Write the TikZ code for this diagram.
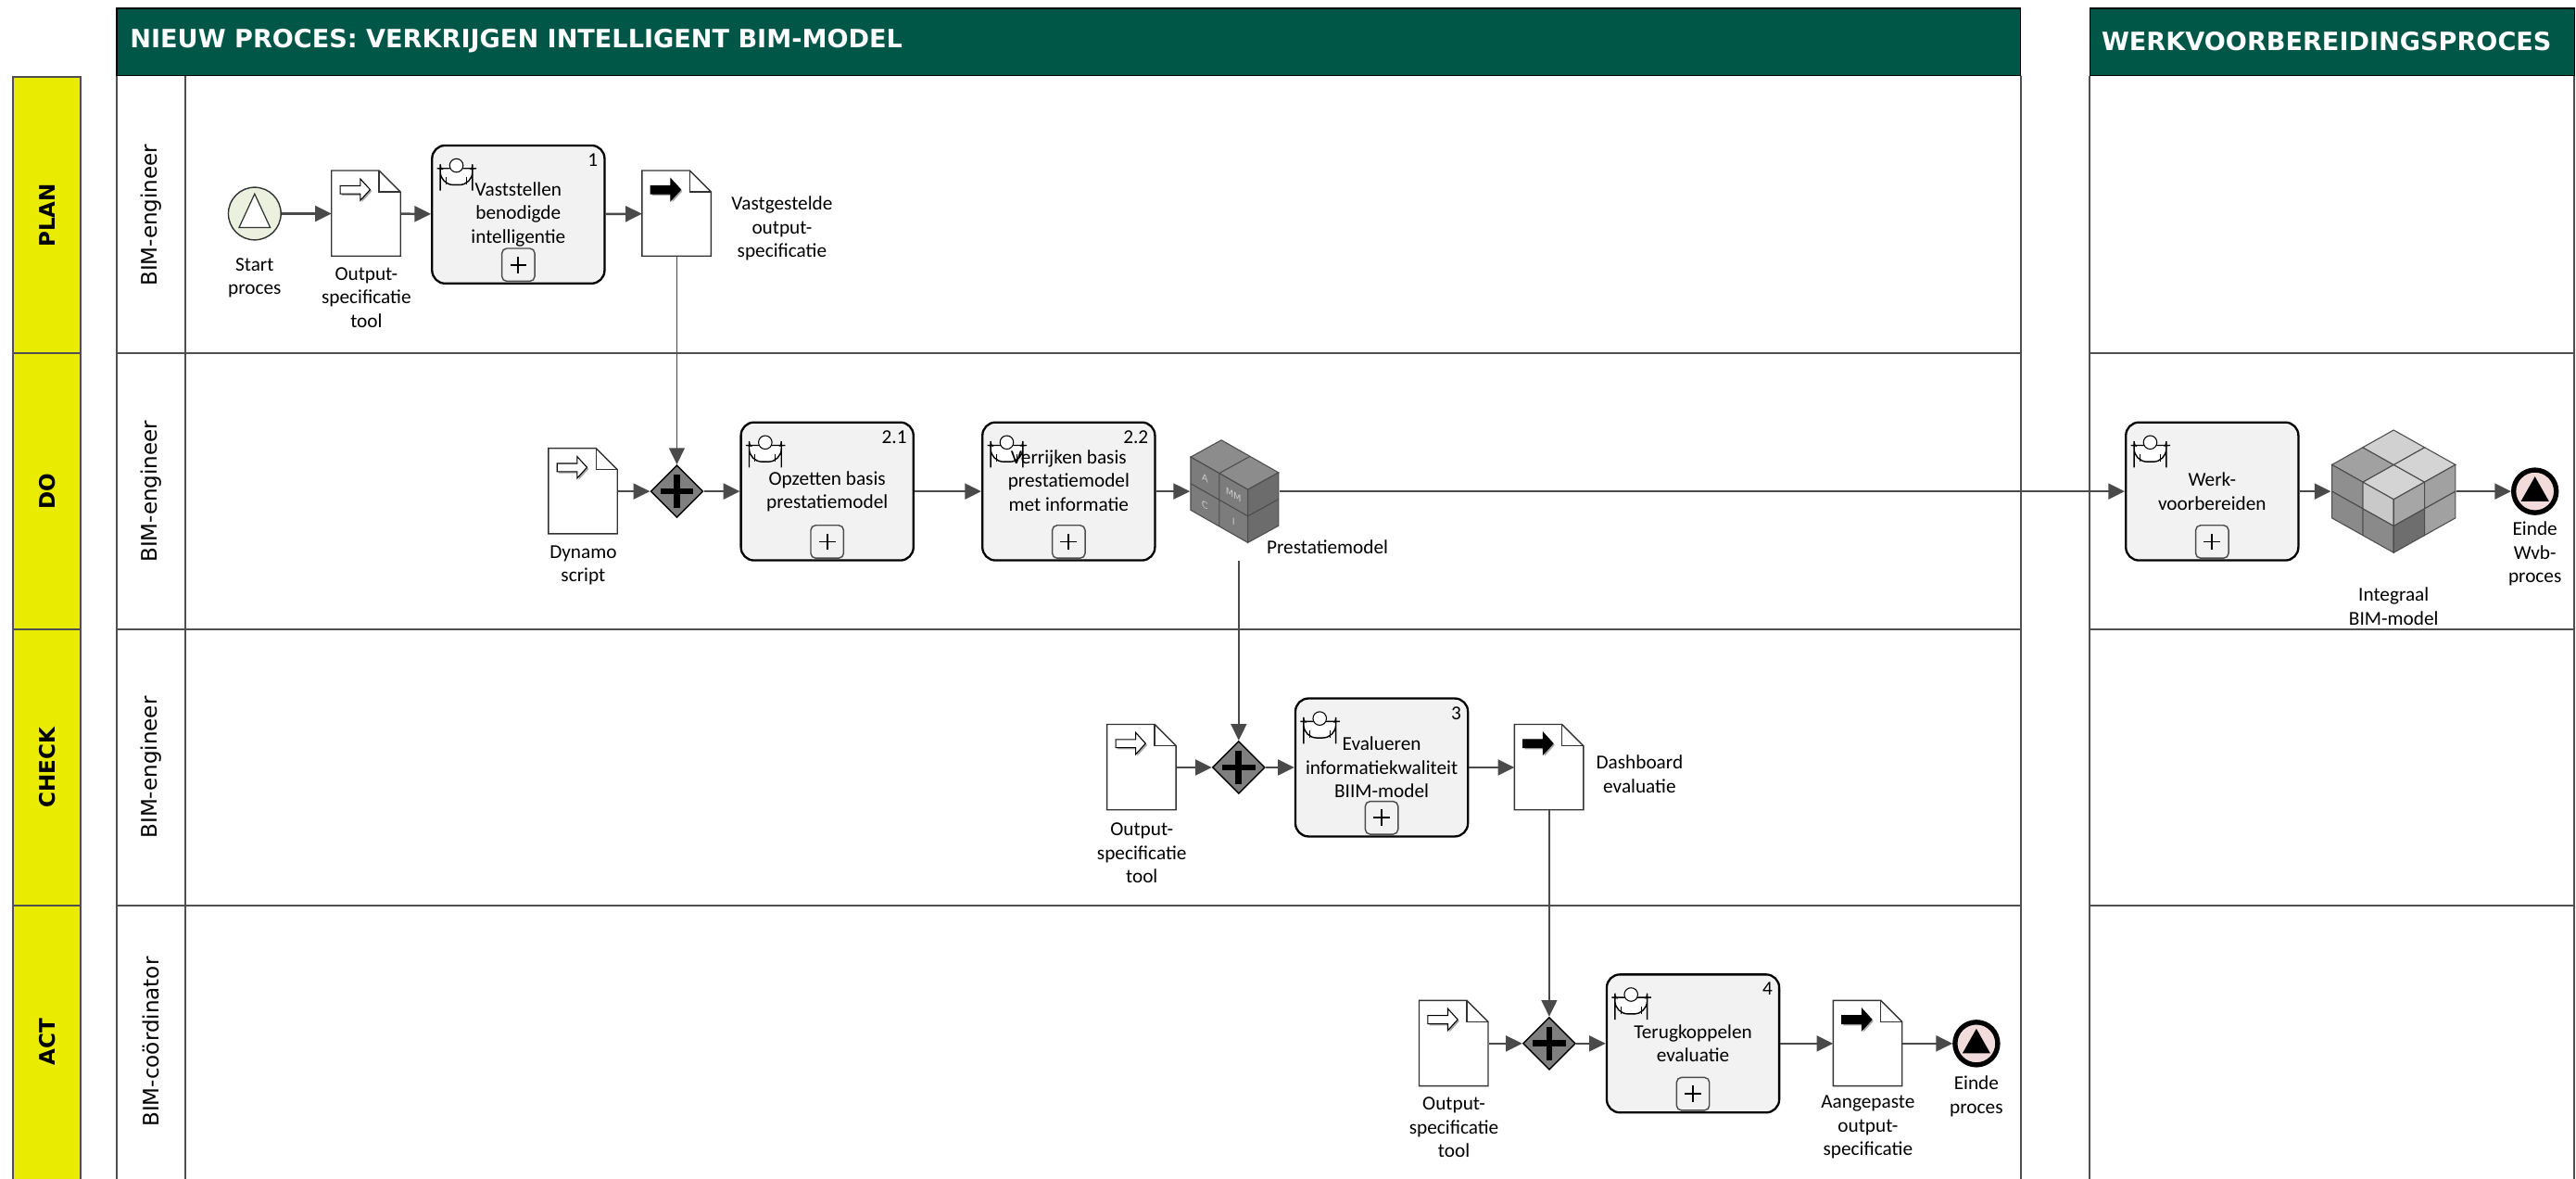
\documentclass[tikz,border=0pt]{standalone}
\usepackage{fontspec}
\setmainfont{Carlito}
\newfontfamily\verdana{DejaVu Sans}
\usetikzlibrary{shapes.geometric,arrows.meta,positioning}

\definecolor{headgreen}{HTML}{015747}
\definecolor{pdcayellow}{HTML}{E9EB00}
\definecolor{lanegray}{HTML}{4F4F4F}
\definecolor{flowgray}{HTML}{4A4A4A}
\definecolor{taskfill}{HTML}{F2F2F2}
\definecolor{startfill}{HTML}{EBF1DE}
\definecolor{endfill}{HTML}{F2DCDB}
\definecolor{gwfill}{HTML}{7F7F7F}
\definecolor{cubetop}{HTML}{8C8C8C}
\definecolor{cubeleft}{HTML}{7C7C7C}
\definecolor{cuberight}{HTML}{6C6C6C}

\newcommand{\bodysize}{\fontsize{12}{14.4}\selectfont}

% point of the performer icon, measured from the top left of a 105x84 task
\newcommand{\iconpt}[2]{([xshift=#1pt-52.5pt,yshift=42pt-#2pt]path picture bounding box.center)}
% performer icon, drawn under the task text
\newcommand{\usericon}{%
  \draw[fill=white, line width=0.8pt] \iconpt{5}{24} -- \iconpt{5}{19.5} .. controls \iconpt{5}{15.5} and \iconpt{8}{14} .. \iconpt{11}{14}
    -- \iconpt{19}{14} .. controls \iconpt{22}{14} and \iconpt{24.6}{15.5} .. \iconpt{24.6}{19.5} -- \iconpt{24.6}{24} -- cycle;
  \draw[line width=0.6pt] \iconpt{8.5}{19.5} -- \iconpt{8.5}{24} \iconpt{21}{19.5} -- \iconpt{21}{24};
  \fill \iconpt{14.8}{9.6} circle (5.8pt);
  \draw[fill=white, line width=0.6pt] \iconpt{14.8}{12.2} circle (4.1pt);}

\tikzstyle{lane} = [draw=lanegray, line width=1.2pt]
\tikzstyle{headtxt} = [font=\verdana\bfseries\fontsize{15.3}{18}\selectfont, text=white, anchor=west, inner sep=0pt]
\tikzstyle{pdca} = [font=\verdana\bfseries\fontsize{13}{15}\selectfont, rotate=90, inner sep=0pt]
\tikzstyle{role} = [font=\verdana\fontsize{13}{15}\selectfont, rotate=90, inner sep=0pt]
\tikzstyle{task} = [rectangle, rounded corners=8pt, minimum width=105pt, minimum height=84pt, draw=black, line width=1.3pt, fill=taskfill, align=center, font=\bodysize, inner sep=2pt,
  path picture={\usericon}]
\tikzstyle{doc} = [rectangle, minimum width=42pt, minimum height=52pt, inner sep=0pt]
\tikzstyle{cubebox} = [rectangle, inner sep=0pt]
\tikzstyle{gateway} = [diamond, minimum width=32pt, minimum height=32pt, inner sep=0pt, draw=black, line width=0.8pt, fill=gwfill,
  path picture={\draw[line width=3.8pt] ([xshift=-10pt]path picture bounding box.center) -- ([xshift=10pt]path picture bounding box.center)
    ([yshift=-10pt]path picture bounding box.center) -- ([yshift=10pt]path picture bounding box.center);}]
\tikzstyle{startev} = [circle, minimum size=32pt, inner sep=0pt, draw=black!80, line width=0.8pt, fill=startfill,
  path picture={\draw[fill=white, line width=0.7pt] ([yshift=12pt]path picture bounding box.center)
    -- ([xshift=-9.5pt,yshift=-8.5pt]path picture bounding box.center) -- ([xshift=9.5pt,yshift=-8.5pt]path picture bounding box.center) -- cycle;}]
\tikzstyle{endev} = [circle, minimum size=26pt, inner sep=0pt, draw=black, line width=3pt, fill=endfill,
  path picture={\fill[black] ([yshift=9pt]path picture bounding box.center)
    -- ([xshift=-8.5pt,yshift=-6pt]path picture bounding box.center) -- ([xshift=8.5pt,yshift=-6pt]path picture bounding box.center) -- cycle;}]
\tikzstyle{lbl} = [align=center, font=\bodysize, inner sep=0pt]
\tikzstyle{nr} = [font=\bodysize, inner sep=0pt, anchor=north east]
\tikzstyle{plusbox} = [draw=black!70, line width=0.8pt, fill=taskfill, rounded corners=3pt]
\tikzstyle{cubeline} = [draw=black!70, line width=0.6pt]
\tikzstyle{cubetxt} = [font=\verdana\fontsize{5.5}{6}\selectfont, text=black!20, yslant=-0.57, inner sep=0pt]
\tikzstyle{arrow} = [line width=1.4pt, draw=flowgray, -{Triangle[length=10pt,width=9.5pt]}]
\tikzstyle{link} = [arrow, line width=1pt]

% folded page, #2 is the fill of the arrow (white = input, black = output)
\newcommand{\docpage}[2]{%
  \begin{scope}[shift={(#1.north west)}]
    \draw[draw=black!80, line width=0.8pt, fill=white] (0,0) -- (29,0) -- (42,13) -- (42,52) -- (0,52) -- cycle;
    \draw[draw=black!80, line width=0.8pt] (29,0) -- (29,13) -- (42,13);
    \fill[black!35] (6.3,10.2) -- (18.5,10.2) -- (18.5,6) -- (24.5,12.6) -- (18.5,19.2) -- (18.5,15.2) -- (6.3,15.2) -- cycle;
    \draw[line width=0.6pt, fill=#2] (5.3,9.2) -- (17.5,9.2) -- (17.5,5) -- (23.5,11.6) -- (17.5,18.2) -- (17.5,14.2) -- (5.3,14.2) -- cycle;
  \end{scope}}

% number and sub-process marker of a task
\newcommand{\taskmarks}[2]{%
  \node[nr] (#1-nr) at ([xshift=-4.5pt,yshift=-5.5pt]#1.north east) {#2};
  \draw[plusbox] ([xshift=-10pt,yshift=2pt]#1.south) rectangle ([xshift=10pt,yshift=22pt]#1.south);
  \draw[line width=1pt] ([xshift=-5pt,yshift=12pt]#1.south) -- ([xshift=5pt,yshift=12pt]#1.south)
    ([yshift=7pt]#1.south) -- ([yshift=17pt]#1.south);
}

% A/C/MM/I block
\newcommand{\prestatiecube}[1]{%
  \begin{scope}[shift={(#1.center)}]
    \draw[cubeline, fill=cubetop] (-26.75,-20.9) -- (-8.05,-31.2) -- (9.35,-21.3) -- (26.75,-11.4) -- (8.05,-1.1) -- (-9.35,-11.0) -- cycle;
    \draw[cubeline] (-9.35,-11.0) -- (9.35,-21.3);
    \draw[cubeline, fill=cubeleft] (-26.75,-20.9) -- (8.05,-1.1) -- (8.05,31.2) -- (-26.75,11.4) -- cycle;
    \draw[cubeline] (-9.35,-11.0) -- (-9.35,21.3) (-26.75,-4.75) -- (8.05,15.05);
    \draw[cubeline, fill=cuberight] (8.05,-1.1) -- (26.75,-11.4) -- (26.75,20.9) -- (8.05,31.2) -- cycle;
    \draw[cubeline] (8.05,15.05) -- (26.75,4.75);
    \node[cubetxt] (#1-a) at (-18.05,-7.9) {A};
    \node[cubetxt] (#1-c) at (-18.05,8.3) {C};
    \node[cubetxt] (#1-mm) at (-0.65,2.0) {MM};
    \node[cubetxt] (#1-i) at (-0.65,18.2) {I};
  \end{scope}}

% 2x2x2 block
\newcommand{\integraalcube}[1]{%
  \begin{scope}[shift={(#1.center)}]
    \foreach \i/\j/\c in {0/0/black!17,1/0/black!37,0/1/black!17,1/1/black!18}
      \draw[cubeline, fill=\c] ({18.8*(\j-\i)},{4.9-10.55*(\i+\j)}) -- ++(-18.8,-10.55) -- ++(18.8,-10.55) -- ++(18.8,10.55) -- cycle;
    \foreach \i/\k/\c in {0/0/black!21,1/0/black!44,0/1/black!46,1/1/black!46}
      \draw[cubeline, fill=\c] ({-18.8*\i},{4.9-10.55*\i+16.2*\k}) -- ++(-18.8,-10.55) -- ++(0,16.2) -- ++(18.8,10.55) -- cycle;
    \foreach \j/\k/\c in {0/0/black!35,1/0/black!37,0/1/black!57,1/1/black!37}
      \draw[cubeline, fill=\c] ({18.8*\j},{4.9-10.55*\j+16.2*\k}) -- ++(18.8,-10.55) -- ++(0,16.2) -- ++(-18.8,10.55) -- cycle;
  \end{scope}}

\begin{document}
\begin{tikzpicture}[x=1pt, y=-1pt, node distance=40pt]
\useasboundingbox (0,0) rectangle (1568,717);

% pools and lanes
\filldraw[fill=headgreen, draw=black, line width=0.8pt] (71,5) rectangle (1230,46);
\filldraw[fill=headgreen, draw=black, line width=0.8pt] (1272,5) rectangle (1567,46);
\draw[lane] (71,46) -- (71,725) (113,46) -- (113,725) (1230,46) -- (1230,725);
\draw[lane] (1272,46) -- (1272,725) (1567,46) -- (1567,725);
\filldraw[fill=pdcayellow, draw=lanegray, line width=1.2pt] (8,47) rectangle (49,725);
\foreach \y in {215,383,551} {
  \draw[lane] (8,\y) -- (49,\y);
  \draw[lane] (71,\y) -- (1230,\y);
  \draw[lane] (1272,\y) -- (1567,\y);
}

\node[headtxt] (title) at (79,25) {NIEUW PROCES: VERKRIJGEN INTELLIGENT BIM-MODEL};
\node[headtxt] (wvbtitle) at (1279,25) {WERKVOORBEREIDINGSPROCES};

\node[pdca] (plan) at (29,131) {PLAN};
\node[pdca] (do) at (29,299) {DO};
\node[pdca] (check) at (29,467) {CHECK};
\node[pdca] (act) at (29,634) {ACT};

\node[role] (role1) at (92,131) {BIM-engineer};
\node[role] (role2) at (92,299) {BIM-engineer};
\node[role] (role3) at (92,467) {BIM-engineer};
\node[role] (role4) at (92,634) {BIM-coördinator};

% plan
\node[startev] (start) at (155,130) {};
\node[doc] (spec1) at (223,130) {};
\node[task] (t1) at (315.5,130.5) {Vaststellen\\benodigde\\intelligentie};
\node[doc] (vast) at (412,130) {};
\docpage{spec1}{white}
\taskmarks{t1}{1}
\docpage{vast}{black}

% do
\node[doc] (dynamo) at (355,299) {};
\node[gateway] (gw1) at (412,299) {};
\node[task] (t21) at (503.5,299) {Opzetten basis\\prestatiemodel};
\node[task] (t22) at (650.5,299) {Verrijken basis\\prestatiemodel\\met informatie\\[-1pt]\mbox{}};
\node[cubebox, minimum width=54pt, minimum height=63pt] (pm) at (751.5,299) {};
\node[task] (werk) at (1346.5,299) {Werk-\\voorbereiden};
\node[cubebox, minimum width=76pt, minimum height=75pt] (bim) at (1457,299) {};
\node[endev] (wvbend) at (1543,299) {};
\docpage{dynamo}{white}
\taskmarks{t21}{2.1}
\taskmarks{t22}{2.2}
\taskmarks{werk}{}
\prestatiecube{pm}
\integraalcube{bim}
\coordinate (pmfoot) at (754,341);

% check
\node[doc] (spec3) at (695,467) {};
\node[gateway] (gw2) at (754,467) {};
\node[task] (t3) at (841,467) {Evalueren\\informatiekwaliteit\\BIIM-model};
\node[doc] (dash) at (943,467) {};
\docpage{spec3}{white}
\taskmarks{t3}{3}
\docpage{dash}{black}

% act
\node[doc] (spec4) at (885,635) {};
\node[gateway] (gw3) at (943,635) {};
\node[task] (t4) at (1030.5,635) {Terugkoppelen\\evaluatie};
\node[doc] (aang) at (1137,635) {};
\node[endev] (procend) at (1203,635) {};
\docpage{spec4}{white}
\taskmarks{t4}{4}
\docpage{aang}{black}

% labels
\node[lbl, node distance=39pt, below of=start] (startlbl) {Start\\proces};
\node[lbl, node distance=51pt, below of=spec1] (spec1lbl) {Output-\\specificatie\\tool};
\node[lbl] (vastlbl) at (476,139) {Vastgestelde\\output-\\specificatie};
\node[lbl, node distance=45pt, below of=dynamo] (dynamolbl) {Dynamo\\script};
\node[lbl] (pmlbl) at (808,333) {Prestatiemodel};
\node[lbl, node distance=70pt, below of=bim] (bimlbl) {Integraal\\BIM-model};
\node[lbl, node distance=38pt, below of=wvbend] (wvbendlbl) {Einde\\Wvb-\\proces};
\node[lbl, node distance=52pt, below of=spec3] (spec3lbl) {Output-\\specificatie\\tool};
\node[lbl] (dashlbl) at (998,471) {Dashboard\\evaluatie};
\node[lbl, node distance=51pt, below of=spec4] (spec4lbl) {Output-\\specificatie\\tool};
\node[lbl, node distance=51pt, below of=aang] (aanglbl) {Aangepaste\\output-\\specificatie};
\node[lbl, node distance=32pt, below of=procend] (procendlbl) {Einde\\proces};

% flows
\draw[arrow] (start) -- (spec1);
\draw[arrow] (spec1) -- (t1);
\draw[arrow] (t1) -- (vast);
\draw[link] (vast) -- (gw1);
\draw[arrow] (dynamo) -- (gw1);
\draw[arrow] (gw1) -- (t21);
\draw[arrow] (t21) -- (t22);
\draw[arrow] (t22) -- (pm);
\draw[arrow] (pm) -- (werk);
\draw[arrow] (werk) -- (bim);
\draw[arrow] (bim) -- (wvbend);
\draw[link] (pmfoot) -- (gw2);
\draw[arrow] (spec3) -- (gw2);
\draw[arrow] (gw2) -- (t3);
\draw[arrow] (t3) -- (dash);
\draw[link] (dash) -- (gw3);
\draw[arrow] (spec4) -- (gw3);
\draw[arrow] (gw3) -- (t4);
\draw[arrow] (t4) -- (aang);
\draw[arrow] (aang) -- (procend);

\end{tikzpicture}
\end{document}
